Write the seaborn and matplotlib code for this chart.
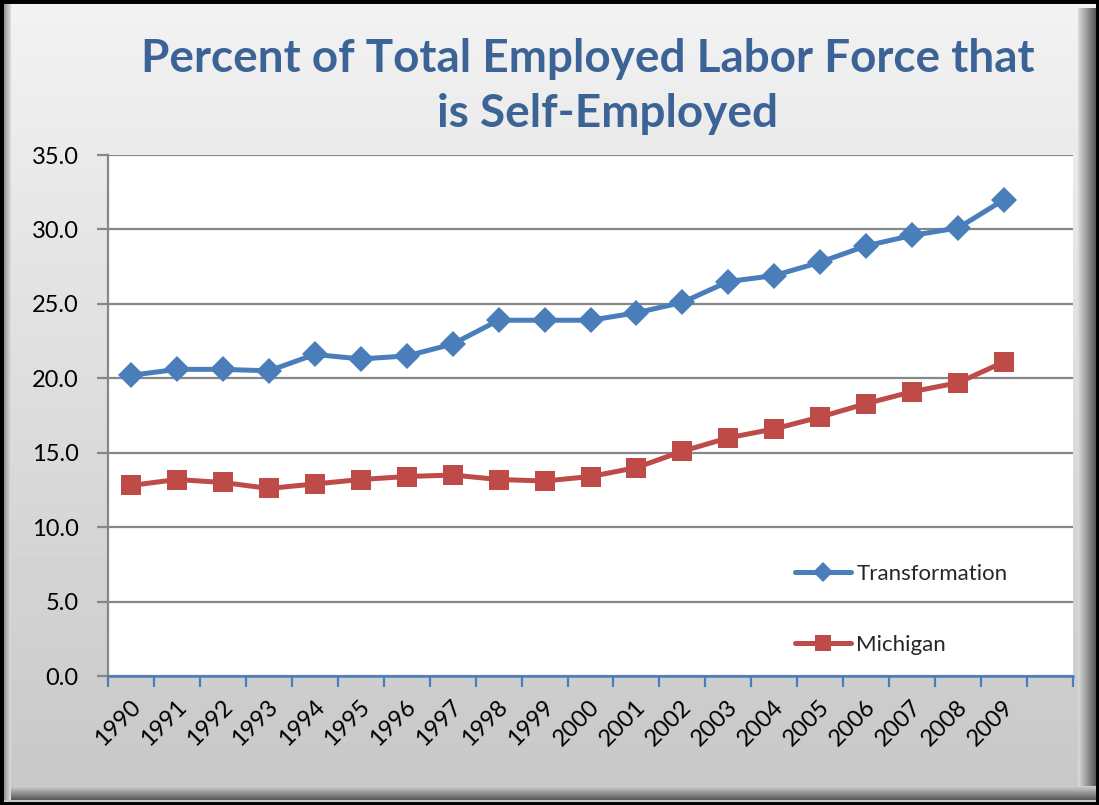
import numpy as np
import pandas as pd
import matplotlib
matplotlib.use("Agg")
import matplotlib.pyplot as plt
import matplotlib.transforms as mtransforms
import seaborn as sns
from matplotlib.patches import Rectangle
from matplotlib.lines import Line2D

# data
years = ["1990", "1991", "1992", "1993", "1994", "1995", "1996", "1997", "1998", "1999",
         "2000", "2001", "2002", "2003", "2004", "2005", "2006", "2007", "2008", "2009"]
transformation = [20.2, 20.6, 20.6, 20.5, 21.6, 21.3, 21.5, 22.3, 23.9, 23.9,
                  23.9, 24.4, 25.1, 26.5, 26.9, 27.8, 28.9, 29.6, 30.1, 32.0]
michigan = [12.8, 13.2, 13.0, 12.6, 12.9, 13.2, 13.4, 13.5, 13.2, 13.1,
            13.4, 14.0, 15.1, 16.0, 16.6, 17.4, 18.3, 19.1, 19.7, 21.1]

BLUE = "#4A7EBB"
RED = "#BE4B48"
TITLE_BLUE = "#3B6396"
GRID = "#878787"

sns.set_theme(style="white")
plt.rcParams["font.family"] = ["Lato", "DejaVu Sans"]

df = pd.DataFrame({
    "pos": list(range(len(years))) * 2,
    "value": transformation + michigan,
    "series": ["Transformation"] * len(years) + ["Michigan"] * len(years),
})

fig = plt.figure(figsize=(10.99, 8.05), dpi=100)

# background panel with a vertical gradient and a beveled frame
bg = fig.add_axes([0, 0, 1, 1], zorder=-10)
bg.set_axis_off()
grad = np.linspace(0.95, 0.78, 256).reshape(-1, 1)
bg.imshow(grad, cmap="gray", vmin=0, vmax=1, aspect="auto", extent=[0, 1, 0, 1])
W, H = 1099, 805
def px(x0, y0, w, h, color):
    bg.add_patch(Rectangle((x0 / W, 1 - (y0 + h) / H), w / W, h / H,
                           color=color, lw=0, transform=bg.transAxes))
# right bevel
for i, c in enumerate(np.linspace(0.85, 0.35, 18)):
    px(1078 + i, 8, 1, 790, str(c))
# bottom bevel
for i, c in enumerate(np.linspace(0.80, 0.35, 14)):
    px(8, 786 + i, 1088, 1, str(c))
# left bevel
for i, c in enumerate(np.linspace(0.55, 0.85, 8)):
    px(3 + i, 3, 1, 797, str(c))
bg.add_patch(Rectangle((0, 0), 1, 1, fill=False, ec="black", lw=5, transform=bg.transAxes))
bg.set_xlim(0, 1)
bg.set_ylim(0, 1)

ax = fig.add_axes([108 / W, 1 - 676 / H, (1073 - 108) / W, (676 - 155) / H])
ax.set_facecolor("white")

sns.lineplot(data=df, x="pos", y="value", hue="series", style="series",
             palette={"Transformation": BLUE, "Michigan": RED},
             markers={"Transformation": "D", "Michigan": "s"},
             dashes=False, linewidth=3.6, markersize=13, markeredgewidth=0,
             ax=ax, legend=False)
# square a bit bigger than diamond
for line in ax.get_lines():
    if line.get_marker() == "s":
        line.set_markersize(14.5)

ax.set_xlim(-0.5, len(years) + 0.5)
ax.set_ylim(0, 35)
ax.set_yticks(np.arange(0, 35.1, 5))
ax.set_yticklabels([f"{v:.1f}" for v in np.arange(0, 35.1, 5)])
ax.yaxis.grid(True, color=GRID, lw=1.6)
ax.set_axisbelow(True)
ax.set_xlabel("")
ax.set_ylabel("")

ax.set_xticks(range(len(years)))
ax.set_xticklabels(years, rotation=45, ha="right", va="center", rotation_mode="anchor")
ax.set_xticks(np.arange(-0.5, len(years) + 0.6, 1), minor=True)
ax.tick_params(axis="x", which="major", bottom=True, length=0, pad=20, labelsize=17,
               colors="black")
ax.tick_params(axis="x", which="minor", bottom=True, length=8, width=1.6, color=BLUE,
               direction="out")
ax.tick_params(axis="y", left=True, length=8, width=1.6, color=GRID, direction="out",
               pad=13, labelsize=17, labelcolor="black")
# nudge x labels a little to the right
shift = mtransforms.ScaledTranslation(6 / 100, 0, fig.dpi_scale_trans)
for lbl in ax.get_xticklabels():
    lbl.set_transform(lbl.get_transform() + shift)

for s in ["top", "right"]:
    ax.spines[s].set_visible(False)
ax.spines["left"].set_color(GRID)
ax.spines["left"].set_linewidth(1.6)
ax.spines["bottom"].set_color(BLUE)
ax.spines["bottom"].set_linewidth(1.8)

handles = [Line2D([], [], color=BLUE, lw=3.6, marker="D", markersize=10, markeredgewidth=0),
           Line2D([], [], color=RED, lw=3.6, marker="s", markersize=12, markeredgewidth=0)]
ax.legend(handles, ["Transformation", "Michigan"], loc="upper left",
          bbox_to_anchor=(0.712, 0.215), frameon=False, borderpad=0, borderaxespad=0,
          handlelength=2.5, handletextpad=0.25, labelspacing=2.3, fontsize=16)

fig.text(0.535, 0.927, "Percent of Total Employed Labor Force that", ha="center", va="center",
         fontsize=33, fontweight="bold", color=TITLE_BLUE)
fig.text(0.553, 0.858, "is Self-Employed", ha="center", va="center",
         fontsize=33, fontweight="bold", color=TITLE_BLUE)

fig.savefig("out.png", dpi=100)
